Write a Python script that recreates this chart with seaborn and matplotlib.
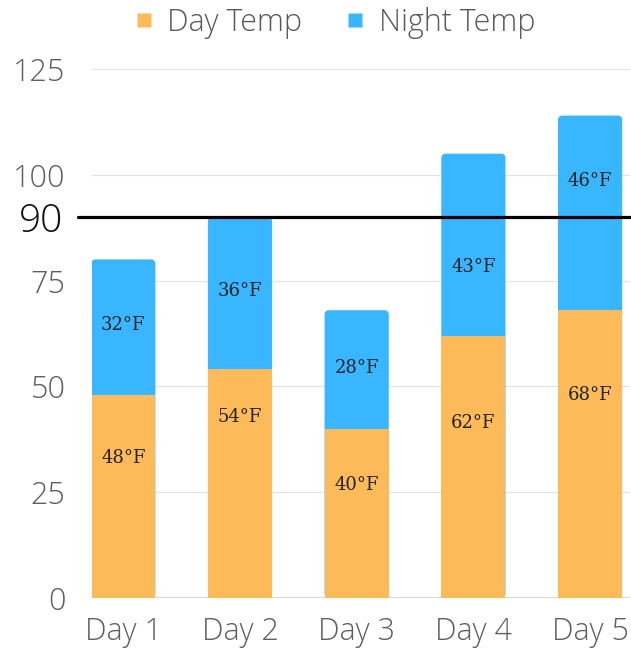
import numpy as np
import pandas as pd
import matplotlib
matplotlib.use('Agg')
import matplotlib.pyplot as plt
import matplotlib.transforms as mtransforms
from matplotlib.patches import FancyBboxPatch
from matplotlib.lines import Line2D
import seaborn as sns

# data
days = ['Day 1', 'Day 2', 'Day 3', 'Day 4', 'Day 5']
day_temp = [48, 54, 40, 62, 68]
night_temp = [32, 36, 28, 43, 46]
y_ticks = [0, 25, 50, 75, 100, 125]
threshold = 90

# where the value labels sit inside the bars
day_label_at = [33, 42.8, 26.6, 41.3, 47.9]
night_label_at = [64.4, 72.6, 54.3, 78.1, 98.6]

DAY_COLOR = '#FDBA58'
NIGHT_COLOR = '#38B6FF'
XLIM = (-0.268, 4.342)
YLIM = (0, 125)

sns.set_theme(style='white')
plt.rcParams['font.family'] = ['Open Sans', 'DejaVu Sans']

df = pd.DataFrame({'day': days, 'day_temp': day_temp, 'night_temp': night_temp})
df['total'] = df['day_temp'] + df['night_temp']

fig = plt.figure(figsize=(6.31, 6.51), dpi=100)
ax = fig.add_axes([92 / 631, 1 - 598 / 651, 538 / 631, (598 - 69) / 651])
ax.set_axisbelow(True)

bar_w = 0.55
sns.barplot(data=df, x='day', y='total', color=NIGHT_COLOR, saturation=1,
            width=bar_w, linewidth=0, ax=ax, zorder=2)

# rounded tops for the night (outer) bars
px_x = ax.get_position().width * fig.get_figwidth() * fig.dpi / (XLIM[1] - XLIM[0])
px_y = ax.get_position().height * fig.get_figheight() * fig.dpi / (YLIM[1] - YLIM[0])
radius_px = 4.5
for p in list(ax.patches):
    x0, y0 = p.get_x(), p.get_y()
    w, h = p.get_width(), p.get_height()
    p.remove()
    fb = FancyBboxPatch((x0, y0), w, h,
                        boxstyle=f'round,pad=0,rounding_size={radius_px / px_x}',
                        mutation_aspect=px_x / px_y,
                        facecolor=NIGHT_COLOR, edgecolor='none', zorder=2)
    ax.add_patch(fb)

sns.barplot(data=df, x='day', y='day_temp', color=DAY_COLOR, saturation=1,
            width=bar_w, linewidth=0, ax=ax, zorder=3)

ax.set_xlim(*XLIM)
ax.set_ylim(*YLIM)

# value labels
for i in range(len(days)):
    ax.text(i, day_label_at[i], f'{day_temp[i]}°F', ha='center', va='center',
            fontsize=13, family='DejaVu Serif', color='#222222', zorder=5)
    ax.text(i, night_label_at[i], f'{night_temp[i]}°F', ha='center', va='center',
            fontsize=13, family='DejaVu Serif', color='#222222', zorder=5)

# grid and axes styling
ax.set_yticks(y_ticks)
ax.yaxis.grid(True, color='#e3e3e3', lw=0.9)
ax.xaxis.grid(False)
for s in ax.spines.values():
    s.set_visible(False)
ax.axhline(0, color='#cfcfcf', lw=1.2, zorder=1)
ax.tick_params(axis='both', length=0, labelsize=22, labelcolor='#5f5f5f')
ax.tick_params(axis='y', pad=19)
ax.tick_params(axis='x', pad=13)
for lbl in ax.get_xticklabels() + ax.get_yticklabels():
    lbl.set_fontweight('light')
ax.set_xlabel('')
ax.set_ylabel('')

# threshold line and its label
ax.axhline(threshold, xmin=-0.026, xmax=1.0, color='black', lw=2.3,
           clip_on=False, zorder=6)
trans = mtransforms.blended_transform_factory(ax.transAxes, ax.transData)
ax.text(-0.054, threshold, str(threshold), transform=trans, ha='right',
        va='center_baseline', fontsize=28, fontweight='light', color='#111111')

handles = [
    Line2D([], [], marker='s', linestyle='none', markersize=9.5,
           markerfacecolor=DAY_COLOR, markeredgecolor='none'),
    Line2D([], [], marker='s', linestyle='none', markersize=9.5,
           markerfacecolor=NIGHT_COLOR, markeredgecolor='none'),
]
leg = fig.legend(handles, ['Day Temp', 'Night Temp'], loc='center',
                 bbox_to_anchor=(336 / 631, 1 - 23 / 651), ncol=2, frameon=False,
                 fontsize=22, handlelength=0.45, handletextpad=0.55,
                 columnspacing=1.5, borderpad=0)
for t in leg.get_texts():
    t.set_color('#5a5a5a')
    t.set_fontweight('light')

fig.savefig('out.png', dpi=100)
